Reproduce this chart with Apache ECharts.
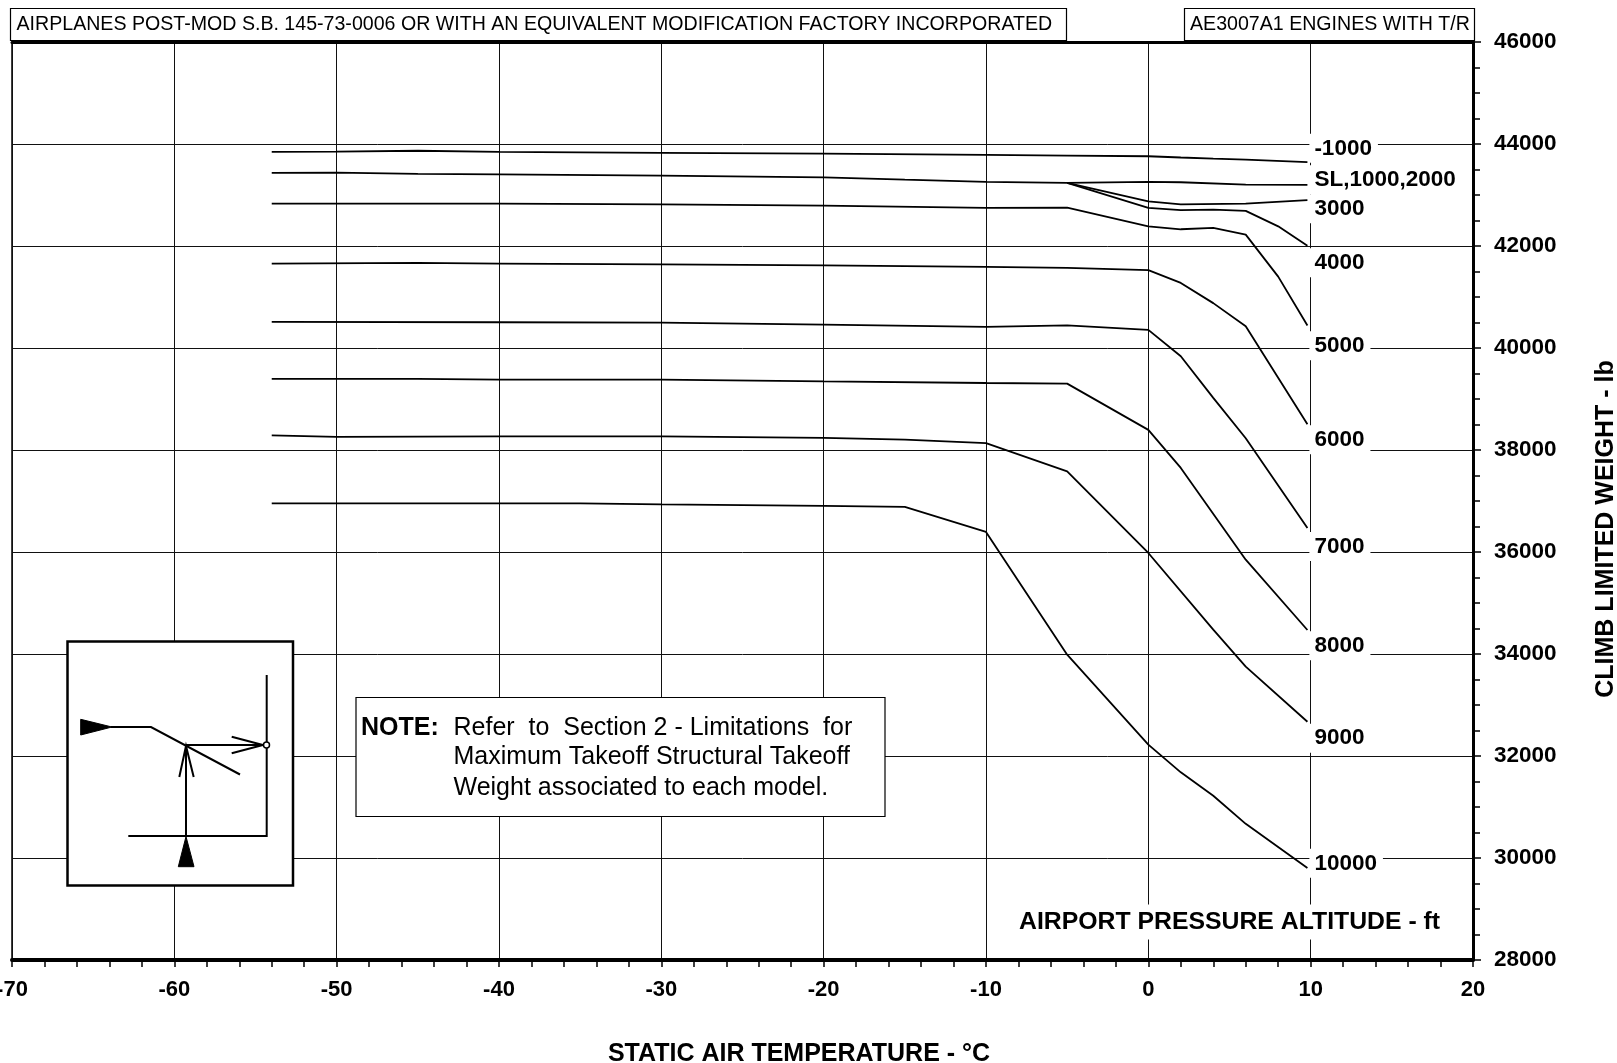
<!DOCTYPE html>
<html>
<head>
<meta charset="utf-8">
<script src="https://cdn.jsdelivr.net/npm/echarts@6/dist/echarts.min.js"></script>
<style>
html,body{margin:0;padding:0;background:#fff;}
#chart{width:1617px;height:1063px;}
</style>
</head>
<body>
<div id="chart"></div>
<script>
// ---- axis ranges [min, max, interval] ----
const xRange = [-70, 20, 10];
const yRange = [28000, 46000, 2000];

// ---- curve data: [static air temperature °C, climb limited weight lb] ----
const wM1000 = [[-54,43845],[-50,43850],[-45,43868],[-40,43845],[-30,43825],[-20,43811],[-10,43786],[-5,43772],[0,43760],[2,43735],[4,43713],[6,43694],[9.8,43645]];
const wSL    = [[-54,43433],[-50,43437],[-45,43415],[-40,43406],[-30,43380],[-20,43347],[-20,43317],[-15,43300],[-10,43257],[-5,43237],[0,43257],[2,43250],[6,43204],[9.8,43200]];
const w3000  = [[-5,43237],[0,42876],[2,42815],[6,42831],[9.8,42900]];
const w4000  = [[-5,43237],[0,42747],[2,42705],[4,42713],[6,42688],[8,42386],[9.8,42005]];
const w5000  = [[-54,42831],[-40,42831],[-30,42817],[-20,42791],[-10,42747],[-5,42752],[0,42386],[2,42328],[4,42356],[6,42223],[8,41400],[9.8,40440]];
const w6000  = [[-54,41655],[-45,41668],[-40,41655],[-30,41641],[-20,41621],[-10,41589],[-5,41570],[0,41526],[2,41276],[4,40880],[6,40425],[9.8,38505]];
const w7000  = [[-54,40511],[-40,40505],[-30,40498],[-20,40458],[-10,40413],[-5,40445],[0,40356],[2,39837],[4,39023],[6,38230],[9.8,36472]];
const w8000  = [[-54,39393],[-45,39393],[-40,39380],[-30,39380],[-20,39346],[-10,39314],[-5,39301],[0,38395],[2,37648],[6,35850],[9.8,34470]];
const w9000  = [[-54,38287],[-50,38256],[-40,38268],[-30,38268],[-20,38236],[-15,38203],[-10,38135],[-5,37582],[0,35981],[4,34477],[6,33752],[9.8,32672]];
const w10000 = [[-54,36954],[-40,36954],[-35,36954],[-30,36934],[-20,36905],[-15,36883],[-10,36393],[-5,33987],[0,32222],[2,31680],[4,31220],[6,30670],[9.8,29804]];

// ---- altitude curve labels ----
const labelTexts   = ['-1000','SL,1000,2000','3000','4000','5000','6000','7000','8000','9000','10000'];
const labelWeights = [43915, 43300, 42730, 41670, 40045, 38200, 36110, 34160, 32350, 29895];
const labelTemp    = 9.89;

const curveNames = ['-1000 ft','SL, 1000, 2000 ft','3000 ft','4000 ft','5000 ft','6000 ft','7000 ft','8000 ft','9000 ft','10000 ft'];
const curveData  = [wM1000, wSL, w3000, w4000, w5000, w6000, w7000, w8000, w9000, w10000];

const FF = "'Liberation Sans', Arial, Helvetica, sans-serif";
const chart = echarts.init(document.getElementById('chart'), null, {renderer:'canvas'});

const series = curveData.map((d, i) => ({
  name: curveNames[i],
  type: 'line',
  data: d,
  symbol: 'none',
  showSymbol: false,
  smooth: false,
  z: 3,
  lineStyle: {color: '#000', width: 1.8},
  animation: false
}));

series.push({
  name: 'altitude labels',
  type: 'scatter',
  symbolSize: 1,
  itemStyle: {color: 'rgba(0,0,0,0)', opacity: 1},
  z: 5,
  data: labelTexts.map((t, i) => ({name: t, value: [labelTemp, labelWeights[i]]})),
  label: {
    show: true,
    position: 'right',
    distance: 0,
    formatter: p => p.name,
    fontFamily: FF,
    fontWeight: 'bold',
    fontSize: 22.5,
    color: '#000',
    opacity: 1,
    backgroundColor: '#fff',
    padding: [3, 6, 3, 5]
  },
  emphasis: {disabled: true},
  silent: true,
  animation: false
});

const diagLine = {stroke:'#000', lineWidth:2, fill:null};

const option = {
  backgroundColor: '#fff',
  animation: false,
  grid: {left: 12, right: 144, top: 42, bottom: 103, containLabel: false, outerBoundsMode: 'none', show: true, borderColor: '#000', borderWidth: 1.5, backgroundColor: 'transparent'},
  xAxis: [{
    type: 'value',
    min: xRange[0], max: xRange[1], interval: xRange[2],
    position: 'bottom',
    axisLine: {show: true, onZero: false, lineStyle: {color: '#000', width: 4}},
    axisTick: {show: true, length: 7, lineStyle: {color: '#000', width: 1.5}},
    minorTick: {show: true, splitNumber: 5, length: 7, lineStyle: {color: '#000', width: 1.5}},
    splitLine: {show: true, lineStyle: {color: '#111', width: 1}},
    axisLabel: {show: true, margin: 19, fontFamily: FF, fontWeight: 'bold', fontSize: 22, color: '#000', showMinLabel: true, showMaxLabel: true, hideOverlap: false, formatter: v => String(v)}
  }, {
    type: 'value',
    min: xRange[0], max: xRange[1], interval: xRange[2],
    position: 'top',
    axisLine: {show: true, onZero: false, lineStyle: {color: '#000', width: 3}},
    axisTick: {show: false},
    axisLabel: {show: false},
    splitLine: {show: false}
  }],
  yAxis: {
    type: 'value',
    min: yRange[0], max: yRange[1], interval: yRange[2],
    position: 'right',
    axisLine: {show: true, onZero: false, lineStyle: {color: '#000', width: 3}},
    axisTick: {show: true, length: 8, lineStyle: {color: '#000', width: 1.5}},
    minorTick: {show: true, splitNumber: 4, length: 7, lineStyle: {color: '#000', width: 1.5}},
    splitLine: {show: true, lineStyle: {color: '#111', width: 1}},
    axisLabel: {show: true, margin: 21, fontFamily: FF, fontWeight: 'bold', fontSize: 22.5, color: '#000', formatter: v => String(v)}
  },
  series: series,
  graphic: {
    elements: [
      // header boxes
      {type:'rect', z:10, shape:{x:10.5, y:8.5, width:1056, height:32}, style:{fill:'#fff', stroke:'#000', lineWidth:1.2}},
      {type:'text', z:11, x:16.5, y:24.5, style:{text:'AIRPLANES POST-MOD S.B. 145-73-0006 OR WITH AN EQUIVALENT MODIFICATION FACTORY INCORPORATED', font:'19.6px ' + FF, fill:'#000', align:'left', verticalAlign:'middle'}},
      {type:'rect', z:10, shape:{x:1184.5, y:8.5, width:290, height:32}, style:{fill:'#fff', stroke:'#000', lineWidth:1.2}},
      {type:'text', z:11, x:1190, y:24.5, style:{text:'AE3007A1 ENGINES WITH T/R', font:'19.6px ' + FF, fill:'#000', align:'left', verticalAlign:'middle'}},
      // axis names
      {type:'text', z:11, x:799, y:1054, style:{text:'STATIC AIR TEMPERATURE - °C', font:'bold 25px ' + FF, fill:'#000', align:'center', verticalAlign:'middle'}},
      {type:'text', z:11, x:1606.5, y:529, rotation: Math.PI/2, style:{text:'CLIMB LIMITED WEIGHT - lb', font:'bold 25px ' + FF, fill:'#000', align:'center', verticalAlign:'middle'}},
      {type:'text', z:11, x:1013, y:922, style:{text:'AIRPORT PRESSURE ALTITUDE - ft', font:'bold 24.8px ' + FF, fill:'#000', align:'left', verticalAlign:'middle', backgroundColor:'#fff', padding:[5,6,5,6]}},
      // note box
      {type:'rect', z:10, shape:{x:356, y:697.5, width:529, height:119}, style:{fill:'#fff', stroke:'#000', lineWidth:1.2}},
      {type:'text', z:11, x:361, y:728, style:{text:'NOTE:', font:'bold 25px ' + FF, fill:'#000', align:'left', verticalAlign:'middle'}},
      {type:'text', z:11, x:453.5, y:728, style:{text:'Refer  to  Section 2 - Limitations  for', font:'25px ' + FF, fill:'#000', align:'left', verticalAlign:'middle'}},
      {type:'text', z:11, x:453.5, y:757.5, style:{text:'Maximum Takeoff Structural Takeoff', font:'25px ' + FF, fill:'#000', align:'left', verticalAlign:'middle'}},
      {type:'text', z:11, x:453.5, y:788, style:{text:'Weight associated to each model.', font:'25px ' + FF, fill:'#000', align:'left', verticalAlign:'middle'}},
      // inset chart-reading diagram
      {type:'rect', z:10, shape:{x:67.5, y:641.5, width:225.5, height:244}, style:{fill:'#fff', stroke:'#000', lineWidth:2.5}},
      {type:'polygon', z:11, shape:{points:[[80.7,719.3],[80.7,735],[112,727]]}, style:{fill:'#000', stroke:'#000', lineWidth:1}},
      {type:'polyline', z:11, shape:{points:[[111,727],[151,727],[240,774.5]]}, style:diagLine},
      {type:'polyline', z:11, shape:{points:[[186,836],[186,746]]}, style:diagLine},
      {type:'polyline', z:11, shape:{points:[[179.3,777],[186,746],[193.7,777]]}, style:diagLine},
      {type:'polygon', z:11, shape:{points:[[178.3,866.7],[194,866.7],[186,836.5]]}, style:{fill:'#000', stroke:'#000', lineWidth:1}},
      {type:'polyline', z:11, shape:{points:[[186,745],[263.5,745]]}, style:diagLine},
      {type:'polyline', z:11, shape:{points:[[231.7,736.7],[263,745],[231.7,753.3]]}, style:diagLine},
      {type:'polyline', z:11, shape:{points:[[266.7,675],[266.7,742]]}, style:diagLine},
      {type:'polyline', z:11, shape:{points:[[266.7,748],[266.7,836],[128.3,836]]}, style:diagLine},
      {type:'circle', z:12, shape:{cx:266.5, cy:745, r:3}, style:{fill:'#fff', stroke:'#000', lineWidth:1.5}}
    ]
  }
};

chart.setOption(option);
</script>
</body>
</html>
